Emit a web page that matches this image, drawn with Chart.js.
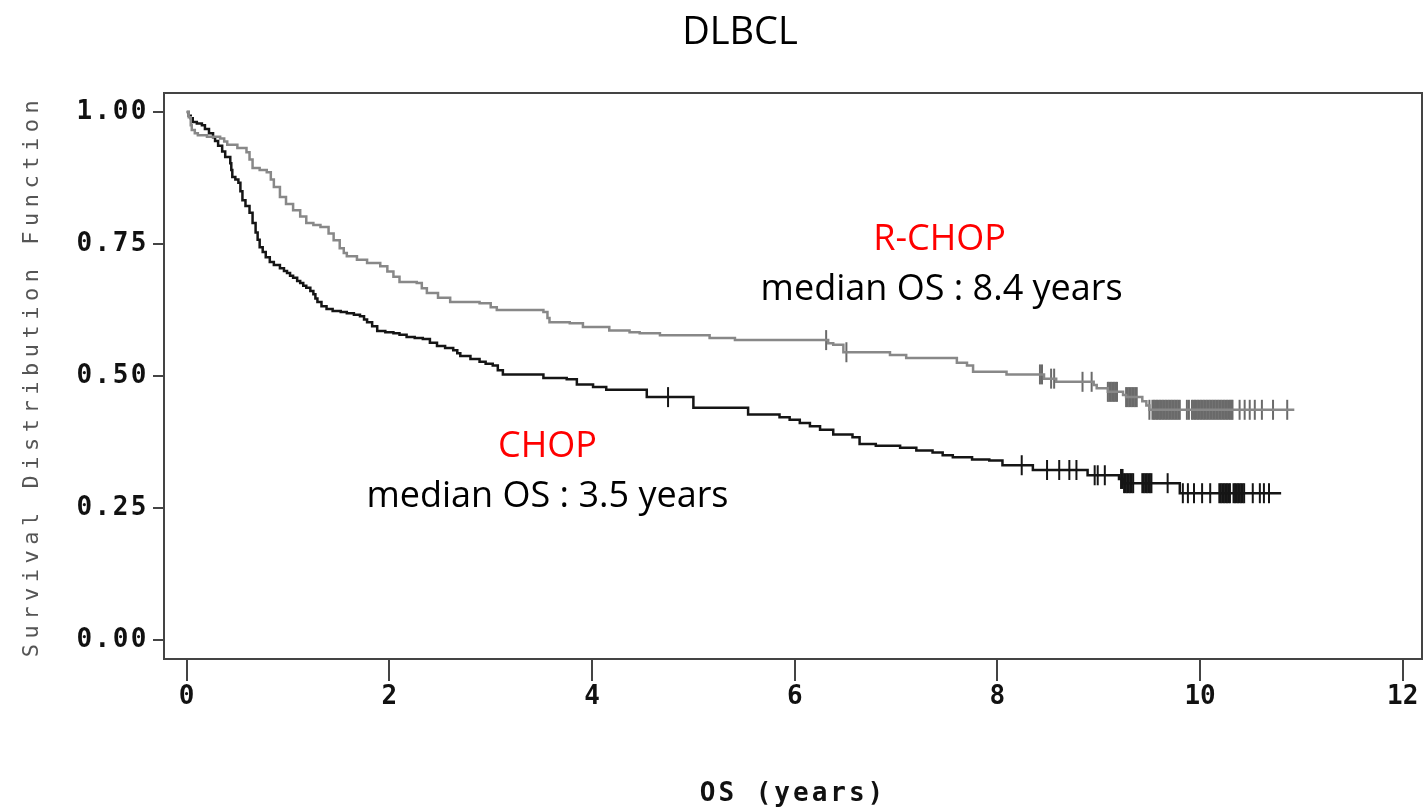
<!DOCTYPE html>
<html>
<head>
<meta charset="utf-8">
<title>DLBCL</title>
<script src="https://cdn.jsdelivr.net/npm/chart.js@4.4.1/dist/chart.umd.min.js"></script>
<style>
  html, body { margin: 0; padding: 0; background: #fff; }
  #wrap { width: 1425px; height: 810px; }
</style>
</head>
<body>
<div id="wrap"><canvas id="km" width="1425" height="810"></canvas></div>
<script>
// Kaplan-Meier curves (time in years, survival after each drop)
const chopTime = [0, 0.02, 0.04, 0.06, 0.10, 0.15, 0.18, 0.22, 0.26, 0.28, 0.31, 0.35, 0.38, 0.43, 0.44,
  0.45, 0.48, 0.51, 0.53, 0.55, 0.58, 0.62, 0.65, 0.68, 0.70, 0.72, 0.75, 0.78, 0.82, 0.86, 0.92, 0.96,
  0.99, 1.02, 1.05, 1.09, 1.12, 1.15, 1.18, 1.22, 1.25, 1.27, 1.29, 1.33, 1.38, 1.44, 1.52, 1.58, 1.65,
  1.71, 1.75, 1.78, 1.83, 1.88, 1.96, 2.04, 2.10, 2.17, 2.25, 2.33, 2.40, 2.47, 2.55, 2.63, 2.67, 2.70,
  2.80, 2.89, 2.95, 3.02, 3.07, 3.12, 3.52, 3.75, 3.85, 4.01, 4.14, 4.54, 5.00, 5.54, 5.85, 5.95, 6.05,
  6.15, 6.25, 6.38, 6.57, 6.64, 6.80, 7.04, 7.20, 7.36, 7.46, 7.56, 7.75, 7.92, 8.05, 8.35, 8.89, 9.20,
  9.25, 9.80, 10.80];
const chopSurv = [1.000, 0.993, 0.988, 0.981, 0.978, 0.975, 0.968, 0.960, 0.952, 0.945, 0.936, 0.925, 0.915, 0.903, 0.890,
  0.877, 0.872, 0.866, 0.850, 0.833, 0.822, 0.809, 0.790, 0.772, 0.758, 0.744, 0.735, 0.725, 0.716, 0.710, 0.704, 0.699,
  0.695, 0.690, 0.686, 0.680, 0.676, 0.671, 0.667, 0.661, 0.655, 0.647, 0.640, 0.632, 0.627, 0.623, 0.621, 0.619, 0.616,
  0.613, 0.607, 0.602, 0.594, 0.585, 0.583, 0.581, 0.578, 0.574, 0.572, 0.570, 0.563, 0.557, 0.553, 0.549, 0.543, 0.538,
  0.532, 0.527, 0.523, 0.520, 0.511, 0.503, 0.496, 0.494, 0.484, 0.479, 0.474, 0.460, 0.440, 0.427, 0.422, 0.417, 0.411,
  0.405, 0.398, 0.389, 0.384, 0.371, 0.368, 0.364, 0.359, 0.355, 0.350, 0.346, 0.342, 0.340, 0.331, 0.322, 0.312, 0.305,
  0.297, 0.278, 0.278];

const rchopTime = [0, 0.02, 0.04, 0.05, 0.08, 0.11, 0.20, 0.33, 0.37, 0.40, 0.50, 0.59, 0.62, 0.65, 0.72,
  0.79, 0.83, 0.86, 0.92, 0.98, 1.05, 1.12, 1.18, 1.25, 1.32, 1.40, 1.45, 1.51, 1.55, 1.58, 1.68, 1.78,
  1.91, 1.98, 2.04, 2.10, 2.27, 2.32, 2.37, 2.48, 2.60, 2.89, 3.00, 3.06, 3.52, 3.56, 3.58, 3.78, 3.91,
  4.17, 4.37, 4.47, 4.67, 5.16, 5.41, 6.33, 6.38, 6.48, 6.94, 7.10, 7.60, 7.70, 7.76, 8.09, 8.46, 8.58,
  8.95, 8.98, 9.09, 9.24, 9.27, 9.43, 9.47, 9.50, 10.93];
const rchopSurv = [1.000, 0.990, 0.975, 0.966, 0.960, 0.956, 0.953, 0.950, 0.944, 0.938, 0.932, 0.924, 0.910, 0.894, 0.890,
  0.886, 0.872, 0.858, 0.839, 0.826, 0.814, 0.802, 0.790, 0.786, 0.782, 0.770, 0.757, 0.742, 0.733, 0.727, 0.720, 0.714,
  0.708, 0.698, 0.688, 0.678, 0.676, 0.666, 0.657, 0.648, 0.640, 0.638, 0.630, 0.625, 0.621, 0.610, 0.602, 0.600, 0.593,
  0.586, 0.583, 0.581, 0.577, 0.572, 0.568, 0.562, 0.559, 0.545, 0.540, 0.534, 0.525, 0.520, 0.508, 0.503, 0.495, 0.489,
  0.483, 0.477, 0.470, 0.464, 0.460, 0.452, 0.444, 0.436, 0.436];

// censored observations (years)
const chopCensor = [4.75, 8.24, 8.49, 8.61, 8.71, 8.78, 8.96, 8.99, 9.06,
  9.22, 9.235, 9.25, 9.265, 9.28, 9.295, 9.31, 9.325, 9.34,
  9.43, 9.445, 9.46, 9.475, 9.49, 9.505, 9.52, 9.68,
  9.83, 9.88, 9.94, 10.02, 10.10,
  10.19, 10.205, 10.22, 10.235, 10.25, 10.265, 10.28, 10.295,
  10.33, 10.345, 10.36, 10.375, 10.39, 10.405, 10.42, 10.435,
  10.52, 10.59, 10.63, 10.68];
const rchopCensor = [6.31, 6.51, 8.42, 8.44, 8.53, 8.56, 8.84, 8.93,
  9.09, 9.105, 9.12, 9.135, 9.15, 9.165, 9.18,
  9.27, 9.285, 9.30, 9.315, 9.33, 9.345, 9.36, 9.375, 9.50,
  9.53, 9.545, 9.56, 9.575, 9.59, 9.605, 9.62, 9.635, 9.65, 9.665, 9.68, 9.695, 9.71, 9.725, 9.74,
  9.755, 9.77, 9.785, 9.80, 9.87, 9.89,
  9.92, 9.935, 9.95, 9.965, 9.98, 9.995, 10.01, 10.025, 10.04, 10.055, 10.07, 10.085, 10.10, 10.115,
  10.13, 10.145, 10.16, 10.175, 10.19, 10.205, 10.22, 10.235, 10.25, 10.265, 10.28, 10.295, 10.31, 10.32,
  10.39, 10.44, 10.49, 10.54, 10.61, 10.72, 10.86];

const xTicks = [0, 2, 4, 6, 8, 10, 12];
const yTicks = [0, 0.25, 0.5, 0.75, 1];

const notes = [
  { text: 'R-CHOP', x: 7.43, y: 0.758, color: '#ff0000' },
  { text: 'median OS : 8.4 years', x: 7.45, y: 0.663, color: '#000000' },
  { text: 'CHOP', x: 3.56, y: 0.366, color: '#ff0000' },
  { text: 'median OS : 3.5 years', x: 3.56, y: 0.271, color: '#000000' }
];

// step value of the curve at time t (used to sit the censor marks on the curve)
function survAt(times, surv, t) {
  let s = surv[0];
  for (let i = 0; i < times.length; i++) {
    if (times[i] <= t) s = surv[i]; else break;
  }
  return s;
}

const toPoints = (times, surv) => times.map((t, i) => ({ x: t, y: surv[i] }));
const censorPoints = (cens, times, surv) => cens.map(t => ({ x: t, y: survAt(times, surv, t) }));

const AXIS = '#444';
const GRAY = '#888888';
const GRAY_DARK = '#6a6a6a';
const BLACK = '#151515';
const SAS_FONT = '"DejaVu Sans Mono", monospace';

// letter spacing per scale part (the SAS bitmap font is widely spaced)
const spacing = {
  x: { labels: '0px', title: '3px' },
  y: { labels: '2.5px', title: '5.5px' }
};

const spacingPlugin = {
  id: 'spacing',
  beforeDraw(chart) {
    Object.keys(spacing).forEach(id => {
      const scale = chart.scales[id];
      if (!scale || scale._spaced) return;
      const origLabels = scale.drawLabels;
      const origTitle = scale.drawTitle;
      scale.drawLabels = function (area) {
        this.ctx.save();
        this.ctx.letterSpacing = spacing[id].labels;
        origLabels.call(this, area);
        this.ctx.restore();
      };
      scale.drawTitle = function () {
        this.ctx.save();
        this.ctx.letterSpacing = spacing[id].title;
        origTitle.call(this);
        this.ctx.restore();
      };
      scale._spaced = true;
    });
  }
};

const framePlugin = {
  id: 'frame',
  afterDraw(chart) {
    const { ctx, chartArea: a, scales } = chart;
    ctx.save();
    ctx.strokeStyle = AXIS;
    ctx.lineWidth = 2;
    ctx.beginPath();
    ctx.moveTo(a.left, a.top);
    ctx.lineTo(a.right, a.top);
    ctx.lineTo(a.right, a.bottom);
    ctx.stroke();

    ctx.letterSpacing = '0px';
    ctx.textAlign = 'center';
    ctx.textBaseline = 'middle';
    ctx.fillStyle = '#000';
    ctx.font = '38px "Open Sans", sans-serif';
    ctx.fillText('DLBCL', 740, 33);

    ctx.font = '36px "Open Sans", sans-serif';
    notes.forEach(n => {
      ctx.fillStyle = n.color;
      ctx.fillText(n.text, scales.x.getPixelForValue(n.x), scales.y.getPixelForValue(n.y));
    });
    ctx.restore();
  }
};

new Chart(document.getElementById('km'), {
  type: 'scatter',
  data: {
    datasets: [
      {
        label: 'R-CHOP',
        data: toPoints(rchopTime, rchopSurv),
        showLine: true,
        stepped: true,
        borderColor: GRAY,
        borderWidth: 2.5,
        pointRadius: 0
      },
      {
        label: 'CHOP',
        data: toPoints(chopTime, chopSurv),
        showLine: true,
        stepped: true,
        borderColor: BLACK,
        borderWidth: 2.5,
        pointRadius: 0
      },
      {
        label: 'R-CHOP censored',
        data: censorPoints(rchopCensor, rchopTime, rchopSurv),
        showLine: false,
        pointStyle: 'line',
        rotation: 90,
        pointRadius: 10,
        borderColor: GRAY_DARK,
        borderWidth: 2
      },
      {
        label: 'CHOP censored',
        data: censorPoints(chopCensor, chopTime, chopSurv),
        showLine: false,
        pointStyle: 'line',
        rotation: 90,
        pointRadius: 10,
        borderColor: BLACK,
        borderWidth: 2
      }
    ]
  },
  options: {
    responsive: false,
    animation: false,
    events: [],
    layout: { autoPadding: false, padding: { top: 93, right: 3, left: 0, bottom: 0 } },
    plugins: {
      legend: { display: false },
      title: { display: false },
      tooltip: { enabled: false }
    },
    scales: {
      x: {
        type: 'linear',
        min: -0.224,
        max: 12.19,
        afterBuildTicks: scale => { scale.ticks = xTicks.map(v => ({ value: v })); },
        afterFit: scale => {
          scale.height = 151;
          scale.paddingLeft = 0;
          scale.paddingRight = 0;
        },
        border: { display: true, color: AXIS, width: 2 },
        grid: { drawOnChartArea: false, drawTicks: true, tickLength: 22, color: AXIS, lineWidth: 2 },
        ticks: {
          color: '#111',
          padding: 1,
          maxRotation: 0,
          font: { family: SAS_FONT, weight: 'bold', size: 26 }
        },
        title: {
          display: true,
          text: 'OS (years)',
          color: '#111',
          padding: { top: 0, bottom: 0 },
          font: { family: SAS_FONT, weight: 'bold', size: 26 }
        }
      },
      y: {
        type: 'linear',
        min: -0.036,
        max: 1.036,
        afterBuildTicks: scale => { scale.ticks = yTicks.map(v => ({ value: v })); },
        afterFit: scale => {
          scale.width = 164;
          scale.paddingTop = 0;
          scale.paddingBottom = 0;
        },
        border: { display: true, color: AXIS, width: 2 },
        grid: { drawOnChartArea: false, drawTicks: true, tickLength: 11, color: AXIS, lineWidth: 2 },
        ticks: {
          color: '#111',
          padding: 4,
          callback: v => v.toFixed(2),
          font: { family: SAS_FONT, weight: 'bold', size: 26 }
        },
        title: {
          display: true,
          text: 'Survival Distribution Function',
          color: '#555',
          padding: { top: 19, bottom: 0 },
          font: { family: SAS_FONT, size: 22 }
        }
      }
    }
  },
  plugins: [spacingPlugin, framePlugin]
});
</script>
</body>
</html>
